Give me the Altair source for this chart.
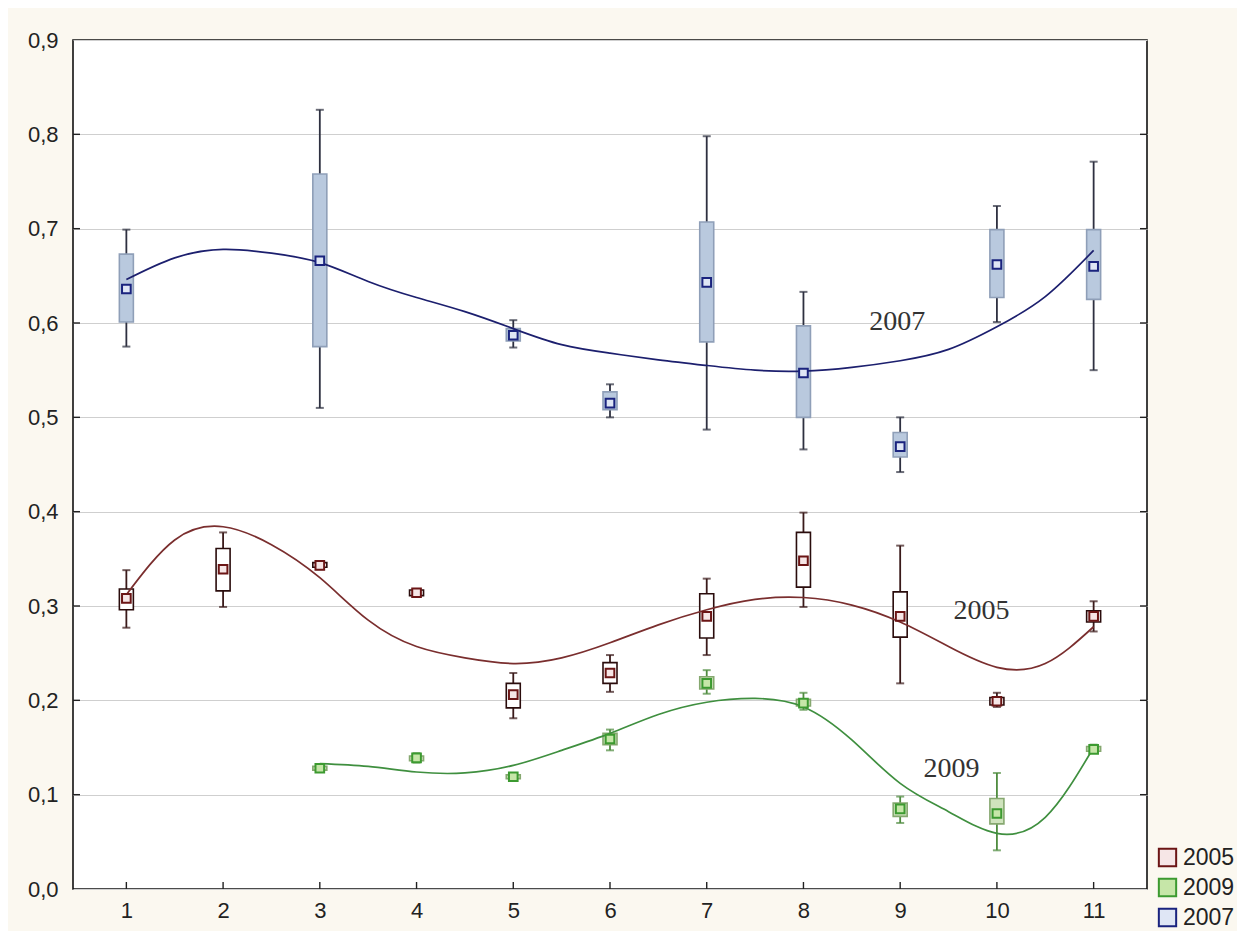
import altair as alt
import pandas as pd

# ---------------- data ----------------
x_2005 = [1, 2, 3, 4, 5, 6, 7, 8, 9, 10, 11]
wlo_2005 = [0.277, 0.299, 0.339, 0.310, 0.181, 0.209, 0.248, 0.299, 0.218, 0.193, 0.273]
q1_2005 = [0.296, 0.316, 0.341, 0.311, 0.192, 0.218, 0.266, 0.320, 0.267, 0.195, 0.283]
med_2005 = [0.308, 0.339, 0.343, 0.314, 0.206, 0.229, 0.289, 0.348, 0.289, 0.199, 0.289]
q3_2005 = [0.318, 0.361, 0.346, 0.317, 0.218, 0.240, 0.313, 0.378, 0.315, 0.203, 0.295]
whi_2005 = [0.338, 0.378, 0.347, 0.318, 0.229, 0.248, 0.329, 0.399, 0.364, 0.208, 0.305]

x_2009 = [3, 4, 5, 6, 7, 8, 9, 10, 11]
wlo_2009 = [0.125, 0.134, 0.116, 0.147, 0.207, 0.190, 0.070, 0.041, 0.145]
q1_2009 = [0.126, 0.136, 0.117, 0.153, 0.212, 0.194, 0.077, 0.069, 0.146]
med_2009 = [0.128, 0.139, 0.119, 0.159, 0.218, 0.197, 0.085, 0.080, 0.148]
q3_2009 = [0.130, 0.141, 0.121, 0.165, 0.225, 0.201, 0.091, 0.096, 0.151]
whi_2009 = [0.132, 0.144, 0.123, 0.169, 0.232, 0.208, 0.098, 0.123, 0.153]

x_2007 = [1, 3, 5, 6, 7, 8, 9, 10, 11]
wlo_2007 = [0.575, 0.510, 0.574, 0.500, 0.487, 0.466, 0.442, 0.601, 0.550]
q1_2007 = [0.601, 0.575, 0.581, 0.508, 0.580, 0.500, 0.458, 0.627, 0.625]
med_2007 = [0.636, 0.666, 0.587, 0.515, 0.643, 0.547, 0.469, 0.662, 0.660]
q3_2007 = [0.673, 0.758, 0.594, 0.527, 0.707, 0.597, 0.484, 0.699, 0.699]
whi_2007 = [0.699, 0.826, 0.603, 0.535, 0.798, 0.633, 0.500, 0.724, 0.771]

# fitted curves
cx_2005 = [1, 1.5, 2, 2.5, 3, 3.5, 4, 4.5, 5, 5.5, 6, 6.5, 7, 7.5, 8, 8.5, 9, 9.5, 10, 10.5, 11]
cy_2005 = [0.312, 0.370, 0.384, 0.365, 0.330, 0.285, 0.257, 0.245, 0.239, 0.245, 0.261,
           0.280, 0.296, 0.307, 0.309, 0.301, 0.283, 0.257, 0.235, 0.239, 0.278]
cx_2009 = [3, 3.5, 4, 4.5, 5, 5.5, 6, 6.5, 7, 7.5, 8, 8.5, 9, 9.5, 10, 10.5, 11]
cy_2009 = [0.133, 0.130, 0.124, 0.123, 0.131, 0.147, 0.165, 0.185, 0.198, 0.202, 0.193,
           0.158, 0.112, 0.082, 0.059, 0.076, 0.150]
cx_2007 = [1, 1.5, 2, 2.5, 3, 3.5, 4, 4.5, 5, 5.5, 6, 6.5, 7, 7.5, 8, 8.5, 9, 9.5, 10, 10.5, 11]
cy_2007 = [0.646, 0.669, 0.678, 0.674, 0.664, 0.644, 0.627, 0.612, 0.594, 0.577, 0.568,
           0.561, 0.555, 0.550, 0.549, 0.553, 0.560, 0.572, 0.596, 0.628, 0.677]

series_names = ["2005", "2009", "2007"]
x_ticks = list(range(1, 12))
y_ticks = [0.0, 0.1, 0.2, 0.3, 0.4, 0.5, 0.6, 0.7, 0.8, 0.9]

label_text = ["2007", "2005", "2009"]
label_x = [8.97, 9.84, 9.53]
label_y = [0.601, 0.295, 0.127]

# ---------------- styles ----------------
style = {
    "2005": dict(box_fill="#ffffff", box_stroke="#2a0c0c", whisk="#3a1a1a",
                 m_fill="#f6e6e6", m_stroke="#6b1515", line="#7a2e2e"),
    "2009": dict(box_fill="#cfe3bd", box_stroke="#86a870", whisk="#4f8c3f",
                 m_fill="#c6e6a8", m_stroke="#3c9a30", line="#3f8f3f"),
    "2007": dict(box_fill="#b9c9de", box_stroke="#8f9fb8", whisk="#2e3040",
                 m_fill="#dfe6f5", m_stroke="#1a237e", line="#1c1f6e"),
}

raw = {
    "2005": (x_2005, wlo_2005, q1_2005, med_2005, q3_2005, whi_2005, cx_2005, cy_2005),
    "2009": (x_2009, wlo_2009, q1_2009, med_2009, q3_2009, whi_2009, cx_2009, cy_2009),
    "2007": (x_2007, wlo_2007, q1_2007, med_2007, q3_2007, whi_2007, cx_2007, cy_2007),
}

W, H = 1074, 849
FONT = "Liberation Sans Narrow, Liberation Sans, Arial, sans-serif"
xs = alt.Scale(domain=[0.5, 11.5], nice=False, zero=False)
ys = alt.Scale(domain=[0, 0.9], nice=False)
xaxis = alt.Axis(values=x_ticks, format="d", grid=False, ticks=False, domain=False,
                 labelFontSize=22, labelFont=FONT, labelColor="#222", labelPadding=11,
                 title=None)
yaxis = alt.Axis(values=y_ticks, grid=True, gridColor="#cfcfcf", gridWidth=1, ticks=False,
                 domain=False, labelFontSize=22, labelFont=FONT, labelColor="#222",
                 labelPadding=15, title=None,
                 labelExpr="replace(format(datum.value, '.1f'), '.', ',')")


def X(f):
    return alt.X(f, scale=xs, axis=xaxis)


def Y(f):
    return alt.Y(f, scale=ys, axis=yaxis)


layers = []

# inner frame ticks
tick_df = pd.DataFrame({"y": y_ticks[1:-1]})
xt_df = pd.DataFrame({"x": x_ticks})
layers.append(alt.Chart(tick_df).mark_rule(color="#222", strokeWidth=1.4).encode(
    y=Y("y:Q"), x=alt.value(0), x2=alt.value(7)))
layers.append(alt.Chart(tick_df).mark_rule(color="#222", strokeWidth=1.4).encode(
    y=Y("y:Q"), x=alt.value(W - 7), x2=alt.value(W)))
layers.append(alt.Chart(xt_df).mark_rule(color="#222", strokeWidth=1.4).encode(
    x=X("x:Q"), y=alt.value(H - 7), y2=alt.value(H)))

for s in series_names:
    xv, wlo, q1, med, q3, whi, cx, cy = raw[s]
    st = style[s]
    df = pd.DataFrame({"x": xv, "wlo": wlo, "q1": q1, "med": med, "q3": q3,
                       "whi": whi, "series": s})
    cdf = pd.DataFrame({"x": cx, "y": cy, "series": s})
    base = alt.Chart(df)
    layers.append(base.mark_rule(color=st["whisk"], strokeWidth=1.8).encode(
        x=X("x:Q"), y=Y("wlo:Q"), y2="whi:Q"))
    for f in ["wlo", "whi"]:
        layers.append(base.mark_tick(color=st["whisk"], orient="horizontal",
                                     size=8, thickness=2).encode(
            x=X("x:Q"), y=Y(f + ":Q")))
    layers.append(base.mark_bar(size=14, fill=st["box_fill"], stroke=st["box_stroke"],
                                strokeWidth=1.6).encode(
        x=X("x:Q"), y=Y("q1:Q"), y2="q3:Q"))
    layers.append(alt.Chart(cdf).mark_line(color=st["line"], strokeWidth=1.7,
                                           interpolate="natural").encode(
        x=X("x:Q"), y=Y("y:Q")))

# median markers (carry the legend)
med_rows = []
for s in series_names:
    xv, wlo, q1, med, q3, whi, cx, cy = raw[s]
    for a, b in zip(xv, med):
        med_rows.append({"x": a, "med": b, "series": s})
med_df = pd.DataFrame(med_rows)
leg = alt.Legend(title=None, orient="none", legendX=1083, legendY=806,
                 symbolSize=300, symbolStrokeWidth=2, labelFontSize=23, labelFont=FONT,
                 labelColor="#222", rowPadding=3, labelOffset=4, symbolType="square")
layers.append(alt.Chart(med_df).mark_point(shape="square", size=75, filled=False,
                                            strokeWidth=2, opacity=1).encode(
    x=X("x:Q"),
    y=Y("med:Q"),
    fill=alt.Fill("series:N", scale=alt.Scale(domain=series_names,
                  range=[style[s]["m_fill"] for s in series_names]), legend=leg),
    stroke=alt.Stroke("series:N", scale=alt.Scale(domain=series_names,
                      range=[style[s]["m_stroke"] for s in series_names]), legend=leg),
))

# series labels
lab_df = pd.DataFrame({"x": label_x, "y": label_y, "t": label_text})
layers.append(alt.Chart(lab_df).mark_text(font="Liberation Serif", fontSize=28,
                                          color="#333", align="center",
                                          baseline="middle").encode(
    x=X("x:Q"), y=Y("y:Q"), text="t:N"))

chart = alt.layer(*layers).properties(
    width=W, height=H,
    autosize=alt.AutoSizeParams(type="none"),
    padding={"left": 65, "top": 32, "right": 90, "bottom": 42},
    background="#fbf8f0",
).configure_view(
    fill="#ffffff", stroke="#111111", strokeWidth=1.6
)

chart.save("out.html", embed_options={"renderer": "svg", "actions": False})
